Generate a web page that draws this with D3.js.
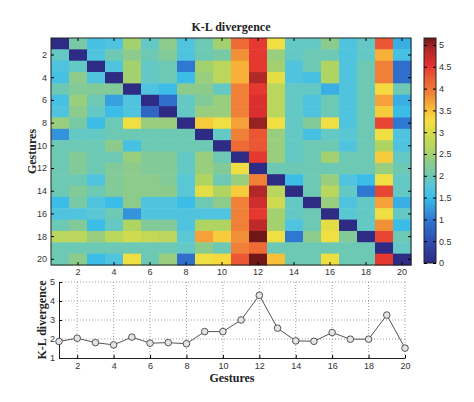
<!DOCTYPE html>
<html>
<head>
<meta charset="utf-8">
<script src="https://cdn.jsdelivr.net/npm/d3@7/dist/d3.min.js"></script>
<style>
  html, body { margin: 0; padding: 0; background: #fff; }
  svg { display: block; }
  .tick text { font-family: "Liberation Sans", Arial, sans-serif; font-size: 9px; fill: #333; }
  .lbl { font-family: "Liberation Serif", "Times New Roman", serif; font-weight: bold; fill: #222; }
</style>
</head>
<body>
<svg id="chart" width="474" height="402"></svg>
<script>
// ---------------- data ----------------
const gestures = [1,2,3,4,5,6,7,8,9,10,11,12,13,14,15,16,17,18,19,20];
const evenTicks = [2,4,6,8,10,12,14,16,18,20];
const colorbarTicks = [0,0.5,1,1.5,2,2.5,3,3.5,4,4.5,5];
const lineYTicks = [1,2,3,4,5];

// K-L divergence matrix (row = gesture i, column = gesture j)
const klMatrix = [
  [0.0,2.1,1.6,1.7,2.5,1.9,2.3,1.7,2.0,2.5, 4.1,4.5,3.2,1.9,1.9,2.3,1.7,1.9,4.3,1.4],
  [1.9,0.0,1.7,2.0,2.3,2.0,2.2,1.7,2.0,2.1, 3.8,4.5,2.4,1.9,2.0,2.0,1.7,1.9,3.6,1.6],
  [1.7,1.9,0.0,1.7,2.5,1.9,2.0,1.0,2.5,2.7, 3.6,4.5,2.5,1.7,2.0,2.6,1.7,2.0,3.9,0.9],
  [1.6,2.3,1.7,0.0,2.5,1.9,2.0,1.5,2.4,2.7, 3.6,4.9,3.1,1.7,1.6,2.6,1.7,2.0,3.9,0.9],
  [2.0,2.2,2.2,2.2,0.0,1.7,1.5,2.3,2.3,1.9, 3.9,4.5,2.7,1.9,1.9,1.4,1.7,2.0,3.3,2.0],
  [1.6,2.4,2.0,1.3,1.7,0.0,0.9,1.9,2.2,2.4, 3.9,4.6,2.7,1.9,1.7,2.0,1.7,2.0,3.7,1.4],
  [1.7,2.3,1.9,1.5,1.7,0.8,0.0,1.9,2.4,2.4, 3.9,4.6,2.7,1.9,1.7,2.0,1.7,2.0,3.4,1.5],
  [2.4,2.1,1.5,2.0,3.2,2.4,2.4,0.0,3.4,3.2, 3.7,5.0,3.2,1.9,2.2,3.2,1.7,2.0,4.4,1.0],
  [1.2,1.9,1.9,2.0,2.0,2.0,2.0,2.0,0.0,1.9, 3.9,4.3,2.4,1.9,1.6,1.9,1.8,2.0,3.2,1.7],
  [2.0,2.0,2.0,2.3,1.6,2.0,2.0,2.0,2.0,0.0, 4.1,4.3,2.4,1.9,2.0,2.0,1.7,2.0,2.6,1.7],
  [2.0,2.2,2.0,2.0,2.4,2.2,2.2,1.9,2.4,2.0, 0.0,4.5,2.4,1.9,2.0,2.5,2.0,2.0,3.4,1.9],
  [2.0,2.2,2.0,2.2,2.3,2.2,2.2,1.9,2.4,2.2, 3.2,0.0,2.0,2.0,2.0,2.0,2.0,2.0,2.4,2.0],
  [2.0,2.0,1.7,2.2,2.3,2.3,2.2,1.8,2.6,2.0, 2.4,3.9,0.0,1.5,2.0,2.4,1.7,1.5,3.2,1.9],
  [2.0,2.2,2.0,2.2,2.3,2.3,2.3,1.8,3.1,2.6, 3.4,4.9,2.7,0.0,2.0,2.7,1.9,1.0,4.4,1.9],
  [1.5,2.1,1.7,1.5,2.3,1.7,1.7,1.5,2.0,2.3, 3.9,4.7,2.9,1.9,0.0,2.4,1.7,1.9,3.7,1.4],
  [1.7,1.7,1.8,2.0,1.2,1.7,1.7,1.7,1.7,1.7, 3.9,4.5,2.5,1.9,2.0,0.0,1.8,1.9,3.2,1.9],
  [2.0,2.2,1.5,1.9,2.6,2.2,2.2,1.7,2.6,2.6, 3.9,4.8,2.5,1.7,2.0,3.1,0.0,1.9,3.8,1.5],
  [2.7,2.7,2.4,2.7,2.9,2.8,2.7,1.8,3.7,3.4, 3.8,5.2,3.2,1.0,2.3,3.2,2.2,0.0,4.4,2.0],
  [2.0,2.0,2.0,2.0,2.0,2.0,2.0,1.9,2.3,2.0, 3.9,4.1,2.0,2.0,2.0,2.0,2.0,2.0,0.0,1.9],
  [2.0,2.3,1.5,1.7,3.2,2.0,2.4,0.9,3.2,3.3, 4.3,5.2,3.5,2.0,2.0,3.2,2.0,2.0,4.5,0.0]
];

// average K-L divergence per gesture (bottom panel)
const klAverage = [1.87,2.04,1.81,1.69,2.10,1.78,1.81,1.75,2.39,2.39,
                   3.00,4.30,2.57,1.90,1.88,2.34,1.99,1.99,3.26,1.52];

const colorMax = 5.16;

// colour map stops (washed-out jet as in the reference)
const cmapStops = [0, 0.5, 1.0, 1.5, 1.75, 2.0, 2.3, 2.6, 3.0, 3.25, 3.55, 3.9, 4.3, 4.55, 4.9, 5.16];
const cmapColors = ["#2d2b83","#2f4cae","#2f78d2","#3cbde8","#55c6dc","#6ec9b4","#8dcb8c","#b0d462",
                    "#d8dc48","#f5e040","#f8b838","#f08038","#eb5634","#e23030","#b02828","#701818"];

// ---------------- drawing ----------------
const svg = d3.select("#chart");
const color = d3.scaleLinear().domain(cmapStops).range(cmapColors).clamp(true);

// heatmap
const hm = { left: 51, right: 411, top: 38, bottom: 265 };
const xb = d3.scaleBand().domain(gestures).range([hm.left, hm.right]);
const yb = d3.scaleBand().domain(gestures).range([hm.top, hm.bottom]);

const cells = [];
klMatrix.forEach((row, i) => row.forEach((v, j) => cells.push({ r: gestures[i], c: gestures[j], v })));

svg.append("g").selectAll("rect").data(cells).join("rect")
  .attr("x", d => xb(d.c))
  .attr("y", d => yb(d.r))
  .attr("width", xb.bandwidth() + 0.5)
  .attr("height", yb.bandwidth() + 0.5)
  .attr("fill", d => color(d.v));

svg.append("rect").attr("x", hm.left).attr("y", hm.top)
  .attr("width", hm.right - hm.left).attr("height", hm.bottom - hm.top)
  .attr("fill", "none").attr("stroke", "#222").attr("stroke-width", 1);

const tick = 3;
svg.append("g").attr("transform", `translate(${hm.left},0)`)
  .call(d3.axisLeft(yb).tickValues(evenTicks).tickSize(-tick).tickPadding(4))
  .call(g => g.select(".domain").remove());
svg.append("g").attr("transform", `translate(${hm.right},0)`)
  .call(d3.axisRight(yb).tickValues(evenTicks).tickSize(-tick).tickFormat(""))
  .call(g => g.select(".domain").remove());
svg.append("g").attr("transform", `translate(0,${hm.bottom})`)
  .call(d3.axisBottom(xb).tickValues(evenTicks).tickSize(-tick).tickPadding(4))
  .call(g => g.select(".domain").remove());
svg.append("g").attr("transform", `translate(0,${hm.top})`)
  .call(d3.axisTop(xb).tickValues(evenTicks).tickSize(-tick).tickFormat(""))
  .call(g => g.select(".domain").remove());

svg.append("text").attr("class", "lbl")
  .attr("x", (hm.left + hm.right) / 2).attr("y", 31)
  .attr("text-anchor", "middle").attr("font-size", 12)
  .text("K-L divergence");

svg.append("text").attr("class", "lbl")
  .attr("transform", `translate(36,${(hm.top + hm.bottom) / 2}) rotate(-90)`)
  .attr("text-anchor", "middle").attr("font-size", 12)
  .text("Gestures");

// colorbar
const cb = { left: 424, right: 436, top: 38, bottom: 263 };
const cy = d3.scaleLinear().domain([0, colorMax]).range([cb.bottom, cb.top]);
const defs = svg.append("defs");
const grad = defs.append("linearGradient").attr("id", "cbgrad")
  .attr("x1", 0).attr("y1", 1).attr("x2", 0).attr("y2", 0);
grad.selectAll("stop").data(cmapStops).join("stop")
  .attr("offset", d => d / colorMax)
  .attr("stop-color", d => color(d));
svg.append("rect").attr("x", cb.left).attr("y", cb.top)
  .attr("width", cb.right - cb.left).attr("height", cb.bottom - cb.top)
  .attr("fill", "url(#cbgrad)").attr("stroke", "#222").attr("stroke-width", 1);
svg.append("g").attr("transform", `translate(${cb.right},0)`)
  .call(d3.axisRight(cy).tickValues(colorbarTicks).tickSize(-tick).tickPadding(3)
        .tickFormat(d3.format("")))
  .call(g => g.select(".domain").remove());
svg.append("g").attr("transform", `translate(${cb.left},0)`)
  .call(d3.axisLeft(cy).tickValues(colorbarTicks).tickSize(-tick).tickFormat(""))
  .call(g => g.select(".domain").remove());

// bottom line chart
const lc = { left: 59, right: 405, top: 282, bottom: 358 };
const lx = d3.scaleLinear().domain([1, 20]).range([lc.left, lc.right]);
const ly = d3.scaleLinear().domain([1, 5]).range([lc.bottom, lc.top]);

const grid = svg.append("g").attr("stroke", "#888").attr("stroke-width", 0.8)
  .attr("stroke-dasharray", "1,2");
grid.selectAll(".vg").data(evenTicks).join("line")
  .attr("x1", d => lx(d)).attr("x2", d => lx(d))
  .attr("y1", lc.top).attr("y2", lc.bottom);
grid.selectAll(".hg").data(lineYTicks.slice(1)).join("line")
  .attr("x1", lc.left).attr("x2", lc.right)
  .attr("y1", d => ly(d)).attr("y2", d => ly(d));

svg.append("g").attr("transform", `translate(${lc.left},0)`)
  .call(d3.axisLeft(ly).tickValues(lineYTicks).tickSize(-tick).tickPadding(4).tickSizeOuter(0)
        .tickFormat(d3.format("d")))
  .call(g => g.select(".domain").attr("stroke", "#222"));
svg.append("g").attr("transform", `translate(0,${lc.bottom})`)
  .call(d3.axisBottom(lx).tickValues(evenTicks).tickSize(-tick).tickPadding(5).tickSizeOuter(0)
        .tickFormat(d3.format("d")))
  .call(g => g.select(".domain").attr("stroke", "#222"));

const line = d3.line().x((d, i) => lx(gestures[i])).y(d => ly(d));
svg.append("path").datum(klAverage)
  .attr("d", line).attr("fill", "none").attr("stroke", "#555").attr("stroke-width", 1);
svg.append("g").selectAll("circle").data(klAverage).join("circle")
  .attr("cx", (d, i) => lx(gestures[i])).attr("cy", d => ly(d)).attr("r", 3.3)
  .attr("fill", "#e4e4e4").attr("stroke", "#555").attr("stroke-width", 1);

svg.append("text").attr("class", "lbl")
  .attr("x", (lc.left + lc.right) / 2).attr("y", 382)
  .attr("text-anchor", "middle").attr("font-size", 12)
  .text("Gestures");
svg.append("text").attr("class", "lbl")
  .attr("transform", `translate(46,${(lc.top + lc.bottom) / 2}) rotate(-90)`)
  .attr("text-anchor", "middle").attr("font-size", 12)
  .text("K-L divergence");
</script>
</body>
</html>
